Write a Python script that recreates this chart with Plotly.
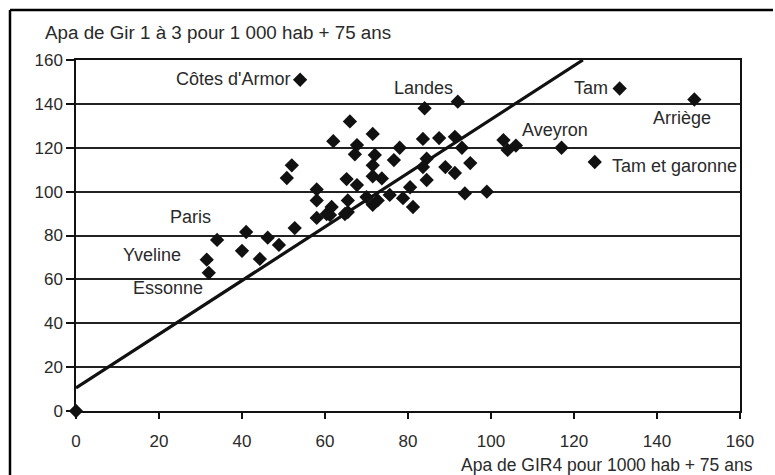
import plotly.graph_objects as go

# GIR4 per 1000 inhabitants 75+ (x) and GIR 1-3 per 1000 inhabitants 75+ (y)
gir4 = [54, 84, 92, 131, 149, 117, 103, 104, 106, 125, 34, 41, 40, 31.5, 32, 0,
        66, 71.5, 62, 67.7, 67.2, 72, 78, 76.6, 71.5, 83.6, 87.5, 91.3, 93, 84.5,
        83.6, 89, 91.3, 95, 93.7, 84.5, 99, 52, 50.8, 65.2, 67.7, 71.5, 73.7, 58,
        58, 70, 71.5, 72.7, 75.6, 78.8, 80.5, 81.2, 65.5, 65.5, 61.6, 61.2, 58,
        52.7, 46.2, 48.9, 44.3, 60.4, 64.8]
gir13 = [151, 138, 141, 147, 142, 120, 123.5, 119, 121, 113.5, 78, 81.6, 73, 69, 63, 0,
         132, 126.3, 123, 121.2, 117, 116.7, 120, 114.4, 112, 124, 124.4, 125, 120, 115,
         111.2, 111.2, 108.5, 113, 99.2, 105.3, 100, 112, 106.2, 105.7, 103, 107, 106, 101,
         96, 97.5, 94, 96, 98.5, 97, 102, 93, 96, 90.7, 93, 89.3, 88,
         83.4, 79, 75.7, 69.3, 89.8, 89.8]

# Department labels and where they are written
label_text = ["Côtes d'Armor", "Landes", "Tam", "Arriège", "Aveyron",
              "Tam et garonne", "Paris", "Yveline", "Essonne"]
label_x = [52, 83.8, 128.7, 146.1, 115.4, 128.7, 27.7, 18.3, 22.1]
label_y = [151.3, 147.2, 147.2, 133.5, 128, 111.7, 88.4, 71.1, 56]
label_anchor = ["right", "center", "right", "center", "center", "left",
                "center", "center", "center"]

# Trend line: y = a + b x
trend_intercept = 10.5
trend_slope = 1.224

x_ticks = [0, 20, 40, 60, 80, 100, 120, 140, 160]
y_ticks = [0, 20, 40, 60, 80, 100, 120, 140, 160]

FONT = "Liberation Sans, Arial, sans-serif"
TXT = "#2a2a2a"

fig = go.Figure()

x_end = (160 - trend_intercept) / trend_slope
fig.add_trace(go.Scatter(
    x=[0, x_end], y=[trend_intercept, trend_intercept + trend_slope * x_end],
    mode="lines", line=dict(color="#111111", width=3.2), hoverinfo="skip",
    showlegend=False))

fig.add_trace(go.Scatter(
    x=gir4, y=gir13, mode="markers",
    marker=dict(symbol="diamond", size=11, color="#111111"),
    cliponaxis=False, showlegend=False))

for t, x, y, a in zip(label_text, label_x, label_y, label_anchor):
    fig.add_annotation(x=x, y=y, text=t, showarrow=False, xanchor=a,
                       yanchor="middle", font=dict(family=FONT, size=18, color=TXT))

fig.add_annotation(xref="paper", yref="paper", x=-0.0497, y=1.077,
                   text="Apa de Gir 1 à 3 pour 1 000 hab + 75 ans", showarrow=False,
                   xanchor="left", yanchor="middle",
                   font=dict(family=FONT, size=18.8, color=TXT))
fig.add_annotation(xref="paper", yref="paper", x=1.0226, y=-0.1538,
                   text="Apa de GIR4 pour 1000 hab + 75 ans", showarrow=False,
                   xanchor="right", yanchor="middle",
                   font=dict(family=FONT, size=17.5, color=TXT))

# outer frame (top and left edges)
fig.add_shape(type="line", xref="paper", yref="paper", x0=-0.0994, x1=1.0497,
              y0=1.1425, y1=1.1425, line=dict(color="black", width=2.5))
fig.add_shape(type="line", xref="paper", yref="paper", x0=-0.0994, x1=-0.0994,
              y0=1.1425, y1=-0.3, line=dict(color="black", width=2.5))

fig.update_xaxes(range=[0, 160], tickvals=x_ticks, showgrid=False, zeroline=False,
                 showline=True, linecolor="#111111", linewidth=1.5, mirror=True,
                 ticks="outside", ticklen=6, tickcolor="#111111", tickwidth=1.5,
                 ticklabelstandoff=8,
                 tickfont=dict(family=FONT, size=17, color=TXT))
fig.update_yaxes(range=[0, 160], tickvals=y_ticks, showgrid=True,
                 gridcolor="#222222", gridwidth=1.5, zeroline=False,
                 showline=True, linecolor="#111111", linewidth=1.5, mirror=True,
                 ticks="outside", ticklen=8, tickcolor="#111111", tickwidth=1.5,
                 tickfont=dict(family=FONT, size=17, color=TXT))

fig.update_layout(width=775, height=475, margin=dict(l=76, r=35, t=60, b=64),
                  plot_bgcolor="white", paper_bgcolor="white", showlegend=False)

fig.write_html("out.html", config={"displayModeBar": False},
               post_script="document.body.style.margin='0';"
                           "document.body.style.overflow='hidden';")
